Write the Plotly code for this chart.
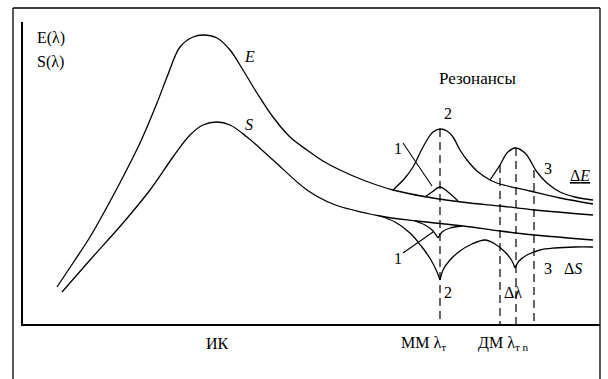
import plotly.graph_objects as go

# --- data (x: wavelength position, y: height above the axis) ---
e_x = [57, 73, 90, 107, 123, 140, 157, 167, 180, 193, 203, 217, 230, 243, 257, 273, 290, 307, 323, 340, 363, 393, 427, 470, 500, 535, 593]
e_y = [37, 61, 87, 117, 147, 181, 221, 247, 277, 287, 289, 286, 274, 254, 231, 207, 187, 174, 163, 154, 144, 134, 127, 121, 118, 114, 109]

s_x = [62, 90, 123, 150, 173, 190, 203, 217, 230, 247, 273, 307, 333, 380, 417, 463, 500, 535, 593]
s_y = [32, 64, 101, 134, 167, 189, 199, 202, 199, 187, 164, 134, 120, 108, 103, 98, 93, 89, 84]

# resonance 2 on E (with its tail)
de2_x = [393, 405, 413, 420, 427, 433, 440, 447, 453, 460, 467, 477, 490, 500, 530, 560, 593]
de2_y = [134, 146, 157, 171, 184, 192, 195, 193, 187, 174, 164, 153, 144, 140, 133, 126, 120]
# resonance 3 on E
de3_x = [490, 500, 507, 515, 525, 537, 547, 560, 575, 593]
de3_y = [144, 159, 171, 176, 171, 152, 141, 132, 127, 124]
# resonance 1 on E
de1_x = [425, 432, 440, 448, 458]
de1_y = [127, 132, 137, 132, 123]

# resonance dips on S (split at the cusps)
ds_a_x = [380, 395, 410, 422, 431, 437, 440]
ds_a_y = [108, 102, 91, 77, 64, 52, 44]
ds_b_x = [440, 443, 450, 460, 472, 485, 495, 505, 512, 515]
ds_b_y = [44, 54, 64, 73, 80, 84, 80, 72, 63, 56]
ds_c_x = [515, 519, 527, 540, 555, 575, 593]
ds_c_y = [56, 63, 69, 74, 76, 77, 77]
ds1_a_x = [415, 425, 432, 438]
ds1_a_y = [103, 99, 94, 86]
ds1_b_x = [438, 442, 450, 462]
ds1_b_y = [86, 92, 96, 98]

# leader lines of label "1"
lead_up_x = [403, 432]
lead_up_y = [181, 138]
lead_dn_x = [403, 433]
lead_dn_y = [71, 92]

# dashed markers of resonance wavelengths
dash_x = [440, 500, 516, 534]
dash_top = [195, 159, 176, 154]

labels = [
    ("E(λ)", 35, 286, "left"),
    ("S(λ)", 35, 262, "left"),
    ("<i>E</i>", 249, 268, "center"),
    ("<i>S</i>", 249, 200, "center"),
    ("2", 448, 211, "center"),
    ("1", 398, 176, "center"),
    ("3", 548, 156, "center"),
    ("<u>Δ<i>E</i></u>", 580, 149, "center"),
    ("1", 398, 66, "center"),
    ("2", 448, 32, "center"),
    ("Δλ", 513, 32, "center"),
    ("3", 548, 56, "center"),
    ("Δ<i>S</i>", 573, 56, "center"),
]
bottom_labels = [("ИК", 217), ("ММ λ<sub>т</sub>", 423), ("ДМ λ<sub>т n</sub>", 503)]
title_text = "Резонансы"

FONT = "Liberation Serif, Times New Roman, Tinos, serif"
X0, X1, Y0, Y1 = 23, 600, 0, 302
fig = go.Figure()


def curve(xs, ys, shape="spline", width=1.3, dash=None):
    line = dict(color="black", width=width, shape=shape, dash=dash)
    if shape == "spline":
        line["smoothing"] = 1.0
    fig.add_trace(go.Scatter(x=xs, y=ys, mode="lines", line=line,
                             hoverinfo="skip", showlegend=False))


curve(e_x, e_y)
curve(s_x, s_y)
curve(de2_x, de2_y)
curve(de3_x, de3_y)
curve(de1_x, de1_y)
for xs, ys in [(ds_a_x, ds_a_y), (ds_b_x, ds_b_y), (ds_c_x, ds_c_y), (ds1_a_x, ds1_a_y), (ds1_b_x, ds1_b_y)]:
    curve(xs, ys)
curve(lead_up_x, lead_up_y, shape="linear", width=1.1)
curve(lead_dn_x, lead_dn_y, shape="linear", width=1.1)
for x, top in zip(dash_x, dash_top):
    curve([x, x], [top, 0], shape="linear", width=1.2, dash="8px,5px")

for text, x, y, anchor in labels:
    fig.add_annotation(x=x, y=y, text=text, showarrow=False, xanchor=anchor, yanchor="middle",
                       font=dict(family=FONT, size=16, color="black"))
for text, x in bottom_labels:
    fig.add_annotation(x=x, xref="x", y=-19 / (Y1 - Y0), yref="paper", text=text, showarrow=False,
                       xanchor="center", yanchor="middle",
                       font=dict(family=FONT, size=16, color="black"))
fig.add_annotation(x=477, y=246, text=title_text, showarrow=False, xanchor="center", yanchor="middle",
                   font=dict(family=FONT, size=17, color="black"))

# outer frame of the figure (bottom edge falls outside the picture)
fl, fr, fb, ft = -10 / 577, 1.0, -56 / 302, 316 / 302
fig.add_shape(type="line", xref="paper", yref="paper", x0=fl, x1=fl, y0=fb, y1=ft,
              line=dict(color="black", width=1.3))
fig.add_shape(type="line", xref="paper", yref="paper", x0=fl, x1=fr, y0=ft, y1=ft,
              line=dict(color="black", width=1.3))
fig.add_shape(type="line", xref="paper", yref="paper", x0=fr, x1=fr, y0=fb, y1=ft,
              line=dict(color="black", width=1.3))

fig.update_layout(
    width=608, height=379,
    margin=dict(l=23, r=8, t=22, b=55, pad=0),
    paper_bgcolor="white", plot_bgcolor="white",
    font=dict(family=FONT, color="black"),
    xaxis=dict(range=[X0, X1], showline=True, linecolor="black", linewidth=1.6,
               showgrid=False, zeroline=False, showticklabels=False, ticks=""),
    yaxis=dict(range=[Y0, Y1], showline=True, linecolor="black", linewidth=1.6,
               showgrid=False, zeroline=False, showticklabels=False, ticks=""),
)

fig.write_html("out.html", config={"displayModeBar": False},
               post_script="document.body.style.margin='0';")
